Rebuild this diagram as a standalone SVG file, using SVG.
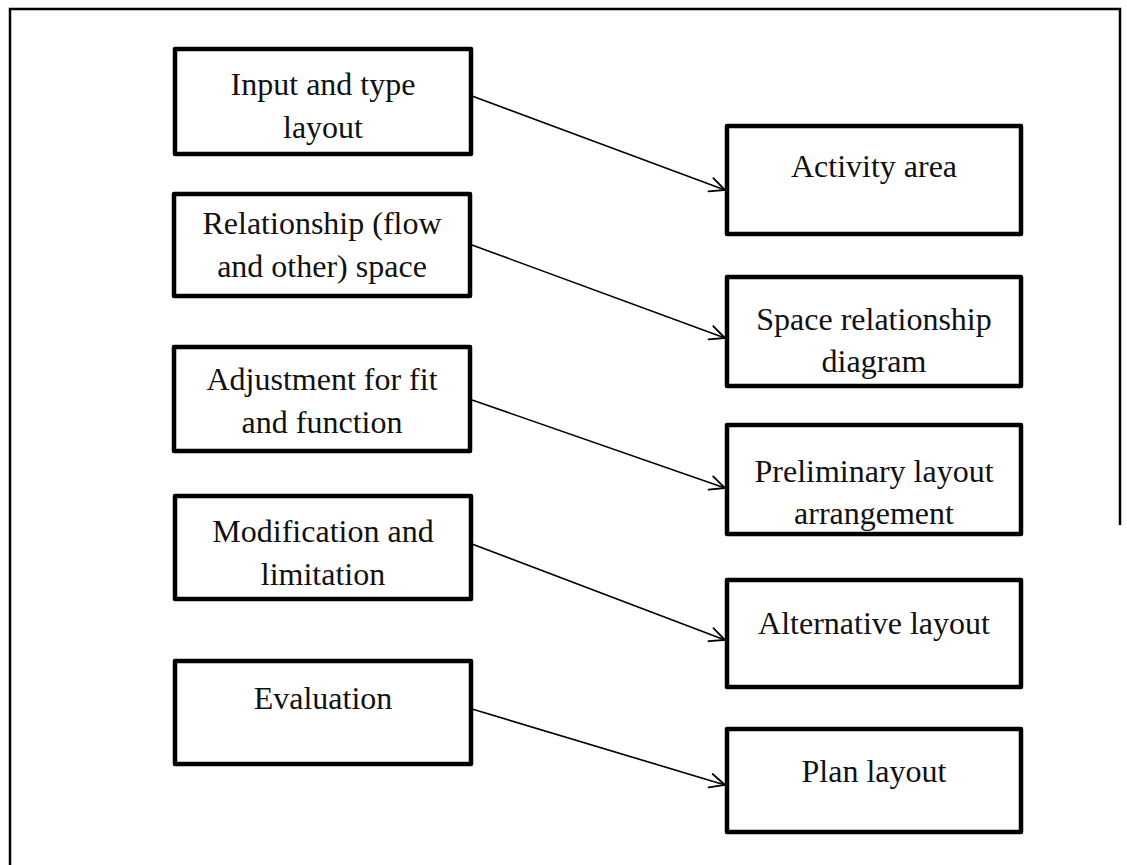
<svg xmlns="http://www.w3.org/2000/svg" width="1127" height="865" viewBox="0 0 1127 865">
  <style>
    .box { fill: #ffffff; stroke: #000000; stroke-width: 4.5; stroke-linejoin: round; }
    .lbl { font-family: "Liberation Serif", "Times New Roman", serif; font-size: 32px; fill: #111111; text-anchor: middle; }
    .frame { fill: none; stroke: #000000; stroke-width: 2.5; }
    .link { fill: none; stroke: #000000; stroke-width: 1.6; marker-end: url(#open); }
  </style>
  <defs>
    <marker id="open" viewBox="0 0 20 20" refX="18" refY="10" markerWidth="20" markerHeight="20" markerUnits="userSpaceOnUse" orient="auto">
      <path d="M3,3 L18,10 L3,17" fill="none" stroke="#000000" stroke-width="1.8" stroke-linecap="round" stroke-linejoin="miter"/>
    </marker>
  </defs>

  <rect width="1127" height="865" fill="#ffffff"/>

  <!-- page frame -->
  <g id="frame">
    <path class="frame" d="M10,865 L10,9 L1120,9 L1120,525"/>
  </g>

  <!-- process steps (left column) -->
  <g id="input-type">
    <rect class="box" x="175" y="49" width="296" height="105"/>
    <text class="lbl" x="323" y="95">Input and type</text>
    <text class="lbl" x="323" y="138">layout</text>
  </g>
  <g id="relationship">
    <rect class="box" x="174" y="194" width="296" height="102"/>
    <text class="lbl" x="322" y="234">Relationship (flow</text>
    <text class="lbl" x="322" y="277">and other) space</text>
  </g>
  <g id="adjustment">
    <rect class="box" x="174" y="347" width="296" height="104"/>
    <text class="lbl" x="322" y="390">Adjustment for fit</text>
    <text class="lbl" x="322" y="433">and function</text>
  </g>
  <g id="modification">
    <rect class="box" x="175" y="496" width="296" height="103"/>
    <text class="lbl" x="323" y="542">Modification and</text>
    <text class="lbl" x="323" y="585">limitation</text>
  </g>
  <g id="evaluation">
    <rect class="box" x="175" y="661" width="296" height="103"/>
    <text class="lbl" x="323" y="709">Evaluation</text>
  </g>

  <!-- outcomes (right column) -->
  <g id="activity-area">
    <rect class="box" x="727" y="126" width="294" height="108"/>
    <text class="lbl" x="874" y="177">Activity area</text>
  </g>
  <g id="space-relationship">
    <rect class="box" x="727" y="277" width="294" height="109"/>
    <text class="lbl" x="874" y="330">Space relationship</text>
    <text class="lbl" x="874" y="372">diagram</text>
  </g>
  <g id="preliminary-layout">
    <rect class="box" x="727" y="425" width="294" height="109"/>
    <text class="lbl" x="874" y="482">Preliminary layout</text>
    <text class="lbl" x="874" y="524">arrangement</text>
  </g>
  <g id="alternative-layout">
    <rect class="box" x="727" y="580" width="294" height="107"/>
    <text class="lbl" x="874" y="634">Alternative layout</text>
  </g>
  <g id="plan-layout">
    <rect class="box" x="727" y="729" width="294" height="103"/>
    <text class="lbl" x="874" y="782">Plan layout</text>
  </g>

  <!-- connectors -->
  <g id="connectors">
    <line class="link" x1="472" y1="96" x2="725" y2="190"/>
    <line class="link" x1="472" y1="245" x2="725" y2="338"/>
    <line class="link" x1="472" y1="400" x2="725" y2="488"/>
    <line class="link" x1="472" y1="544" x2="725" y2="640"/>
    <line class="link" x1="472" y1="709" x2="725" y2="785"/>
  </g>
</svg>
